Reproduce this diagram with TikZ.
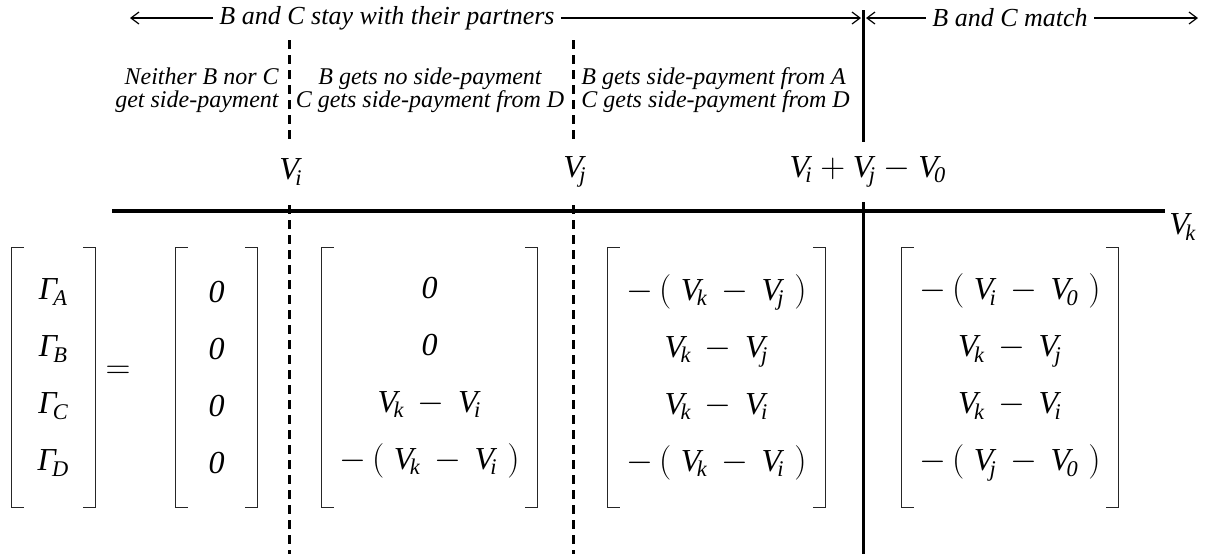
\documentclass[tikz,border=0pt]{standalone}
\usepackage{amsmath}
\usepackage{fontspec}
\setmainfont{Liberation Serif}
\usepackage{tikz}
\usetikzlibrary{arrows.meta,positioning}

\newcommand{\Vx}[1]{\textit{V}_{\!\textit{#1}}}
\newcommand{\Gx}[1]{\textit{Γ}_{\!\textit{#1}}}
\newcommand{\zr}{\textit{0}}
\newcommand{\mn}{\mskip3mu\mathbin{-}\mskip3mu}

\begin{document}
\begin{tikzpicture}[
  x=0.5pt, y=-0.5pt,
  toptext/.style={font=\fontsize{13}{15}\selectfont\itshape, inner sep=3pt},
  regtext/.style={font=\fontsize{12}{11.5}\selectfont\itshape, inner sep=0pt},
  cut/.style={dash pattern=on 4.5pt off 3pt, line width=1.5pt},
  bound/.style={line width=1.5pt},
  axisline/.style={line width=1.7pt},
  arr/.style={-{Straight Barb[length=4pt,width=6pt]}, line width=0.6pt},
  ticklbl/.style={fill=white, font=\fontsize{16}{18}\selectfont, minimum height=30pt, inner sep=1pt},
  vec/.style={minimum height=129.5pt, align=center, font=\fontsize{16}{28.5}\selectfont, inner sep=0pt},
  brk/.style={line width=0.6pt, draw=black!85}
]
  \useasboundingbox (0,0) rectangle (1222,554);

  % Top captions with their arrows
  \node[toptext] (stay) at (387,18) {B and C stay with their partners};
  \node[toptext] (match) at (1010,18) {B and C match};
  \coordinate (stayL) at (130,18);
  \coordinate (stayR) at (861,18);
  \coordinate (matchL) at (866,18);
  \coordinate (matchR) at (1198,18);
  \draw[arr] (stay.west) -- (stayL);
  \draw[arr] (stay.east) -- (stayR);
  \draw[arr] (match.west) -- (matchL);
  \draw[arr] (match.east) -- (matchR);

  % Region boundaries
  \coordinate (ciT) at (289,40);  \coordinate (ciB) at (289,554);
  \coordinate (cjT) at (573,40);  \coordinate (cjB) at (573,554);
  \coordinate (csT) at (863,10);  \coordinate (csB) at (863,554);
  \draw[cut] (ciT) -- (ciB);
  \draw[cut] (cjT) -- (cjB);
  \draw[bound] (csT) -- (csB);

  % Region descriptions
  \node[regtext, align=right, anchor=east] (regNone) at (279,90) {Neither B nor C\\get side-payment};
  \node[regtext, align=center] (regB) at (430,90) {B gets no side-payment\\C gets side-payment from D};
  \node[regtext, align=left, anchor=west] (regBC) at (581,90) {B gets side-payment from A\\C gets side-payment from D};

  % Axis with thresholds
  \coordinate (axL) at (112,211);
  \coordinate (axR) at (1165,211);
  \draw[axisline] (axL) -- (axR);
  \node[ticklbl] (lblVi) at (291,172) {$\Vx{i}$};
  \node[ticklbl] (lblVj) at (575,172) {$\Vx{j}$};
  \node[ticklbl] (lblSum) at (868,172) {$\Vx{i}+\Vx{j}-\Vx{0}$};
  \node[font=\fontsize{16}{18}\selectfont, anchor=west, inner sep=2pt] (lblVk) at (1165,227) {$\Vx{k}$};

  % Payment vectors
  \node[vec, minimum width=41.5pt] (matG) at (53.5,377.5) {$\Gx{A}$\\$\Gx{B}$\\$\Gx{C}$\\$\Gx{D}$};
  \node[font=\fontsize{17}{18}\selectfont] (eq) at (118,372) {$=$};
  \node[vec, minimum width=40.5pt] (mat0) at (216.5,377.5) {$\zr$\\$\zr$\\$\zr$\\$\zr$};
  \node[vec, minimum width=107.5pt] (mat1) at (429.5,377.5) {$\zr$\\$\zr$\\$\Vx{k}\mn\Vx{i}$\\$-\,(\;\Vx{k}\mn\Vx{i}\;)$};
  \node[vec, minimum width=108.5pt] (mat2) at (716.5,377.5) {$-\,(\;\Vx{k}\mn\Vx{j}\;)$\\$\Vx{k}\mn\Vx{j}$\\$\Vx{k}\mn\Vx{i}$\\$-\,(\;\Vx{k}\mn\Vx{i}\;)$};
  \node[vec, minimum width=108pt] (mat3) at (1010,377.5) {$-\,(\;\Vx{i}\mn\Vx{0}\;)$\\$\Vx{k}\mn\Vx{j}$\\$\Vx{k}\mn\Vx{i}$\\$-\,(\;\Vx{j}\mn\Vx{0}\;)$};

  % Brackets
  \foreach \m in {matG,mat0,mat1,mat2,mat3} {
    \draw[brk] ([xshift=6pt]\m.north west) -- (\m.north west) -- (\m.south west) -- ++(12,0);
    \draw[brk] ([xshift=-6pt]\m.north east) -- (\m.north east) -- (\m.south east) -- ++(-12,0);
  }
\end{tikzpicture}
\end{document}
